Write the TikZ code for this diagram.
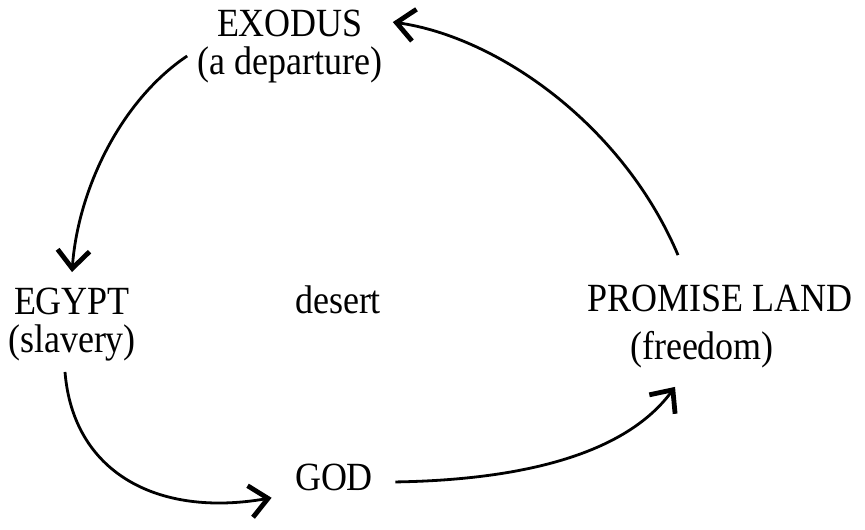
\documentclass[tikz,border=0pt]{standalone}
\usepackage{fontspec}
\setmainfont[FakeStretch=0.9]{Liberation Serif}
\usepackage{tikz}
\usetikzlibrary{arrows.meta,positioning}

\begin{document}
\begin{tikzpicture}[
    x=0.5pt,y=0.5pt,
    label/.style={inner sep=2pt,align=center,font=\fontsize{20}{19}\selectfont},
    arrow/.style={line width=1.4pt,-{Straight Barb[length=9pt,width=16pt,line width=2.4pt]}}
  ]
    \useasboundingbox (0,0) rectangle (865,529);
    \node[label] (exodus) at (290,482) {EXODUS\\(a departure)};
    \node[label] (egypt) at (72,204) {EGYPT\\(slavery)};
    \node[label,anchor=base] (desert) at (338,215) {desert};
    \node[label,font=\fontsize{20}{24}\selectfont] (promise) at (720,202) {PROMISE LAND\\(freedom)\hspace*{18pt}};
    \node[label,anchor=base] (god) at (334,39) {GOD};

    \draw[arrow] ([xshift=-3pt,yshift=-4.5pt]exodus.west)
      .. controls +(-67,-45) and +(6,82) .. ([yshift=6pt]egypt.north);
    \draw[arrow] ([xshift=-21pt,yshift=13pt]promise.north)
      .. controls +(-55,130) and +(105,-15) .. ([xshift=3pt,yshift=-8pt]exodus.north east);
    \draw[arrow] ([xshift=-3.5pt,yshift=-3pt]egypt.south)
      .. controls +(8,-100) and +(-115,-20) .. ([xshift=-9.5pt,yshift=-1.5pt]god.south west);
    \draw[arrow] ([xshift=9pt,yshift=-2.5pt]god.east)
      .. controls +(125,2) and +(-50,-68) .. ([xshift=-22.5pt,yshift=-7pt]promise.south);
  \end{tikzpicture}
\end{document}
